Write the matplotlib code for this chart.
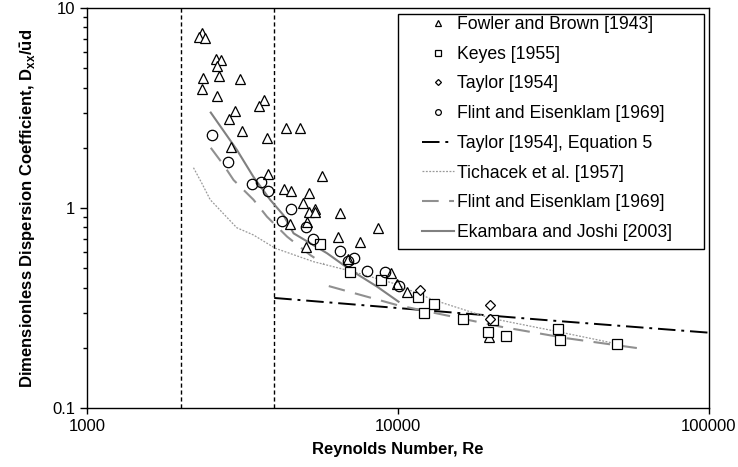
import matplotlib
matplotlib.use("Agg")
import matplotlib.pyplot as plt
import numpy as np
from matplotlib.ticker import FixedLocator, NullFormatter, FixedFormatter
from matplotlib.patches import Rectangle

plt.rcParams['font.family'] = ['Liberation Sans', 'DejaVu Sans']

# ---- data ----
fowler_re = [2350, 2300, 2400, 2600, 2700, 2620, 2360, 2660, 3110, 2350, 2620,
             3715, 3580, 3000, 2870, 3160, 3800, 4375, 4850, 2910, 3830, 5710,
             4310, 4540, 5190, 4960, 5420, 5190, 5420, 6530, 4490, 5110, 8655,
             6390, 7520, 5070, 6930, 9460, 9890, 10690, 19560]
fowler_d = [7.50, 7.16, 7.08, 5.56, 5.50, 5.13, 4.47, 4.57, 4.42, 3.94, 3.63,
            3.47, 3.24, 3.05, 2.79, 2.43, 2.24, 2.51, 2.51, 2.02, 1.48, 1.45,
            1.245, 1.216, 1.19, 1.06, 0.994, 0.95, 0.95, 0.944, 0.832, 0.851, 0.794,
            0.719, 0.676, 0.638, 0.556, 0.472, 0.417, 0.380, 0.226]

keyes_re = [5630, 7030, 8850, 11560, 13010, 12080, 16130, 20150, 19490, 22190,
            32640, 33120, 50540]
keyes_d = [0.661, 0.479, 0.439, 0.359, 0.333, 0.2985, 0.280, 0.275, 0.240, 0.229,
           0.247, 0.219, 0.209]

taylor_re = [11770, 19710, 19710]
taylor_d = [0.389, 0.329, 0.279]

flint_re = [2527, 2846, 3400, 3634, 3828, 4539, 4246, 5074, 5323, 6529, 7243,
            6927, 7976, 9116, 10040]
flint_d = [2.32, 1.70, 1.318, 1.349, 1.216, 0.983, 0.861, 0.799, 0.700, 0.610,
           0.562, 0.543, 0.484, 0.476, 0.407]

taylor_eq_re = [4000, 10000, 30000, 100000]
taylor_eq_d = [0.355, 0.316, 0.275, 0.238]

tich_re = [2200, 2340, 2490, 3030, 3430, 4030, 5350, 7190, 9670, 13000, 19860, 32600, 50800]
tich_d = [1.59, 1.33, 1.10, 0.797, 0.733, 0.629, 0.539, 0.480, 0.420, 0.347, 0.281, 0.241, 0.209]

flint_eq_re = [2500, 2750, 2960, 3430, 3790, 4400, 5220, 5770, np.nan,
               5990, 9940, 21380, 35060, 59200]
flint_eq_d = [2.00, 1.64, 1.38, 1.10, 0.905, 0.719, 0.582, 0.525, np.nan,
              0.407, 0.327, 0.255, 0.223, 0.199]

ekam_re = [2500, 3035, 3430, 3880, 4285, 4616, 5913, 7032, 8574, 10040]
ekam_d = [3.00, 1.95, 1.43, 1.10, 0.92, 0.747, 0.594, 0.490, 0.404, 0.340]

vlines_re = [2000, 4000]

xticks = [1000, 10000, 100000]
xticklabels = ['1000', '10000', '100000']
yticks = [0.1, 1, 10]
yticklabels = ['0.1', '1', '10']

# ---- figure ----
W, H = 738, 467
fig = plt.figure(figsize=(W / 100, H / 100), dpi=100)
ax = fig.add_axes([87/W, 1 - 408/H, (709-87)/W, (408-8)/H])
ax.set_xscale('log')
ax.set_yscale('log')
ax.set_xlim(1000, 100000)
ax.set_ylim(0.1, 10)

for v in vlines_re:
    ax.axvline(v, color='black', lw=1.0, linestyle=(0, (3, 2)), zorder=1)

ms = 7
ax.plot(fowler_re, fowler_d, linestyle='none', marker='^', ms=ms, mfc='white',
        mec='black', mew=0.9, label='Fowler and Brown [1943]', zorder=3)
ax.plot(keyes_re, keyes_d, linestyle='none', marker='s', ms=ms, mfc='white',
        mec='black', mew=0.9, label='Keyes [1955]', zorder=3)
ax.plot(taylor_re, taylor_d, linestyle='none', marker='D', ms=5.5, mfc='white',
        mec='black', mew=0.9, label='Taylor [1954]', zorder=3)
ax.plot(flint_re, flint_d, linestyle='none', marker='o', ms=7.5, mfc='none',
        mec='black', mew=0.9, label='Flint and Eisenklam [1969]', zorder=3)

ax.plot(taylor_eq_re, taylor_eq_d, color='black', lw=1.4,
        linestyle=(0, (9, 3, 1.5, 3)), label='Taylor [1954], Equation 5', zorder=2)
ax.plot(tich_re, tich_d, color='#999999', lw=0.9, linestyle=(0, (1.5, 1.2)),
        label='Tichacek et al. [1957]', zorder=2)
ax.plot(flint_eq_re, flint_eq_d, color='#909090', lw=1.5, linestyle=(0, (8, 5)),
        label='Flint and Eisenklam [1969]', zorder=2)
ax.plot(ekam_re, ekam_d, color='#808080', lw=1.5, linestyle='-',
        label='Ekambara and Joshi [2003]', zorder=2)

ax.xaxis.set_major_locator(FixedLocator(xticks))
ax.xaxis.set_major_formatter(FixedFormatter(xticklabels))
ax.xaxis.set_minor_locator(FixedLocator([]))
ax.yaxis.set_major_locator(FixedLocator(yticks))
ax.yaxis.set_major_formatter(FixedFormatter(yticklabels))
ax.yaxis.set_minor_locator(FixedLocator([k * 10.0**e for e in (-1, 0) for k in range(2, 10)]))
ax.yaxis.set_minor_formatter(NullFormatter())
ax.tick_params(axis='y', which='major', direction='out', length=5, width=1, labelsize=12)
ax.tick_params(axis='y', which='minor', direction='out', length=3, width=1)
ax.tick_params(axis='x', which='major', direction='out', length=4, width=1, labelsize=12, pad=4)

for s in ax.spines.values():
    s.set_linewidth(1.0)
    s.set_color('black')

ax.set_xlabel('Reynolds Number, Re', fontsize=12, fontweight='bold', labelpad=6)
ax.set_ylabel(r'Dimensionless Dispersion Coefficient, D$_\mathregular{xx}$/$\mathregular{\bar{u}}$d',
              fontsize=12, fontweight='bold', labelpad=10)

# legend box (Excel-style wide frame drawn behind a frameless legend)
box = Rectangle((398/W, 1 - 249/H), (704-398)/W, (249-14)/H,
                transform=fig.transFigure, facecolor='white',
                edgecolor='black', lw=1.0, zorder=4, clip_on=False)
ax.add_patch(box)
leg = ax.legend(loc='upper left', bbox_to_anchor=(422/W, 1 - 16/H),
                bbox_transform=fig.transFigure, fontsize=12.7, frameon=False,
                markerscale=0.55, handlelength=1.8, handletextpad=0.2,
                labelspacing=0.72, borderpad=0.0, borderaxespad=0.0)
leg.set_zorder(5)

fig.savefig('out.png', dpi=100)
